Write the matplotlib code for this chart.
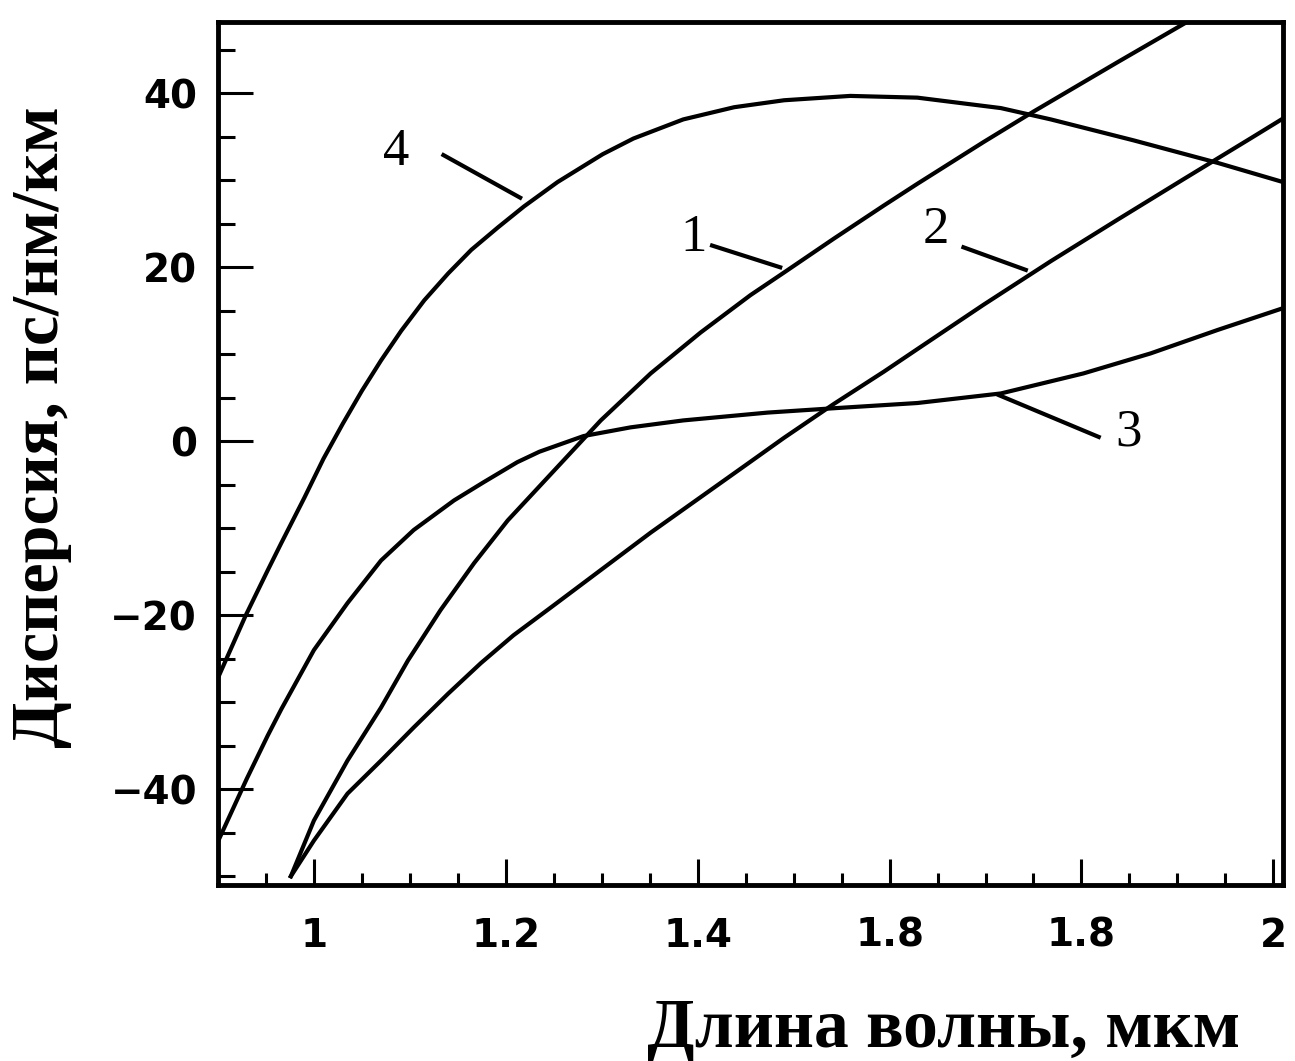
import matplotlib
matplotlib.use("Agg")
import matplotlib.pyplot as plt
from matplotlib.ticker import MultipleLocator, FixedLocator

# Дисперсия волокон 1-4 (пс/нм/км) от длины волны (мкм)
x1 = [0.976, 1.000, 1.035, 1.070, 1.098, 1.132, 1.167, 1.202, 1.299, 1.351,
      1.403, 1.455, 1.490, 1.542, 1.594, 1.629, 1.698, 1.750, 1.838, 1.910, 2.010]
y1 = [-50.0, -43.6, -36.7, -30.6, -25.2, -19.4, -14.0, -9.1, 2.4, 7.8,
      12.5, 16.8, 19.4, 23.3, 27.1, 29.6, 34.4, 37.9, 43.6, 48.2, 54.5]

x2 = [0.976, 1.000, 1.035, 1.070, 1.104, 1.140, 1.174, 1.208, 1.247, 1.351,
      1.448, 1.490, 1.542, 1.594, 1.629, 1.698, 1.768, 1.838, 1.906, 1.976, 2.010]
y2 = [-50.0, -45.9, -40.5, -36.7, -32.9, -29.0, -25.5, -22.3, -19.1, -10.5,
      -2.9, 0.4, 4.3, 8.0, 10.6, 15.7, 20.7, 25.5, 30.1, 34.8, 37.1]

x3 = [0.900, 0.930, 0.952, 0.966, 1.000, 1.035, 1.070, 1.104, 1.146, 1.177,
      1.212, 1.235, 1.281, 1.330, 1.385, 1.473, 1.542, 1.629, 1.716, 1.802,
      1.872, 1.942, 2.010]
y3 = [-46.0, -38.8, -33.8, -30.8, -24.0, -18.6, -13.7, -10.2, -6.8, -4.7,
      -2.4, -1.2, 0.6, 1.6, 2.4, 3.3, 3.8, 4.4, 5.5, 7.8,
      10.1, 12.8, 15.3]

x4 = [0.900, 0.929, 0.952, 0.966, 0.990, 1.010, 1.030, 1.050, 1.070, 1.091,
      1.115, 1.140, 1.164, 1.192, 1.219, 1.254, 1.301, 1.333, 1.385, 1.438,
      1.490, 1.559, 1.629, 1.716, 1.768, 1.854, 1.942, 2.010]
y4 = [-27.2, -20.0, -14.8, -11.7, -6.5, -2.0, 2.0, 5.8, 9.3, 12.7,
      16.2, 19.3, 22.0, 24.6, 27.0, 29.8, 33.0, 34.8, 37.0, 38.4,
      39.2, 39.7, 39.5, 38.3, 37.0, 34.6, 32.0, 29.8]

curves = [(x1, y1), (x2, y2), (x3, y3), (x4, y4)]

# подписи кривых: номер, позиция текста, начало и конец выноски
curve_labels = ["1", "2", "3", "4"]
label_pos = [(1.396, 23.4), (1.648, 24.3), (1.849, 1.0), (1.086, 33.2)]
leader_start = [(1.415, 22.5), (1.677, 22.3), (1.818, 0.5), (1.135, 32.9)]
leader_end = [(1.486, 20.0), (1.742, 19.7), (1.714, 5.3), (1.215, 28.0)]

xtick_vals = [1.0, 1.2, 1.4, 1.6, 1.8, 2.0]
xtick_text = ["1", "1.2", "1.4", "1.8", "1.8", "2"]
ytick_vals = [-40, -20, 0, 20, 40]

fig = plt.figure(figsize=(12.95, 10.61), dpi=100)
ax = fig.add_axes([0.1683, 0.1659, 0.8224, 0.8134])

for x, y in curves:
    ax.plot(x, y, color="black", lw=3.0, solid_joinstyle="round")

for txt, (tx, ty), (sx, sy), (ex, ey) in zip(curve_labels, label_pos, leader_start, leader_end):
    ax.text(tx, ty, txt, fontsize=38, family="Liberation Serif",
            ha="center", va="center")
    ax.plot([sx, ex], [sy, ey], color="black", lw=3.0)

ax.set_xlim(0.9, 2.01)
ax.set_ylim(-51, 48.2)

ax.xaxis.set_major_locator(FixedLocator(xtick_vals))
ax.set_xticklabels(xtick_text)
ax.xaxis.set_minor_locator(MultipleLocator(0.05))
ax.yaxis.set_major_locator(FixedLocator(ytick_vals))
ax.yaxis.set_minor_locator(MultipleLocator(5))

ax.tick_params(axis="both", which="both", direction="in", width=2.2,
               top=False, right=False)
ax.tick_params(axis="y", which="major", length=25, pad=15)
ax.tick_params(axis="y", which="minor", length=12)
ax.tick_params(axis="x", which="major", length=19, pad=23)
ax.tick_params(axis="x", which="minor", length=9)

for lab in ax.get_xticklabels() + ax.get_yticklabels():
    lab.set_fontfamily("DejaVu Sans")
    lab.set_fontweight("bold")
    lab.set_fontsize(28)

for sp in ax.spines.values():
    sp.set_linewidth(3.5)

fig.text(944 / 1295, 1 - 1030 / 1061, "Длина волны, мкм",
         family="Liberation Serif", fontweight="bold", fontsize=50,
         ha="center", va="center")
fig.text(42 / 1295, 1 - 427 / 1061, "Дисперсия, пс/нм/км",
         family="Liberation Serif", fontweight="bold", fontsize=49,
         rotation=90, ha="center", va="center")

fig.savefig("out.png", dpi=100)
